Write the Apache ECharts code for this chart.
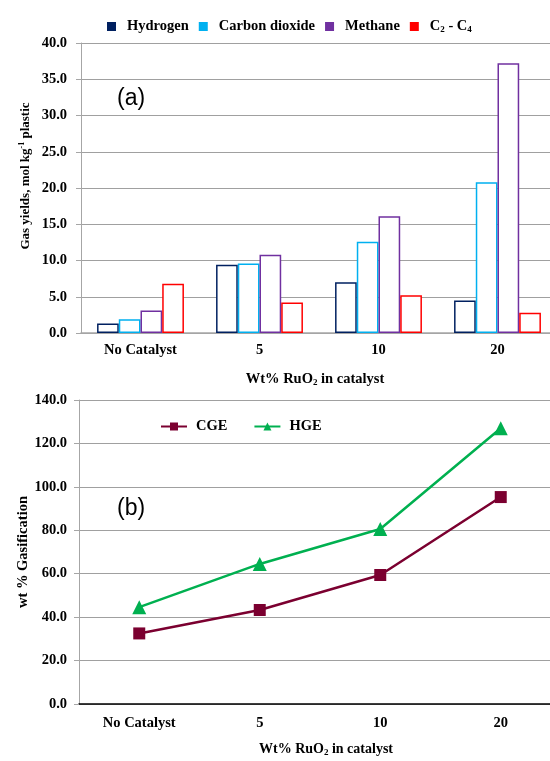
<!DOCTYPE html>
<html>
<head>
<meta charset="utf-8">
<script src="https://cdn.jsdelivr.net/npm/echarts@6/dist/echarts.min.js"></script>
<style>
  html,body{margin:0;padding:0;background:#fff;}
  #chart{width:550px;height:761px;}
</style>
</head>
<body>
<div id="chart"></div>
<script>
// data
const categories = ['No Catalyst', '5', '10', '20'];
const hydrogen = [1.3, 9.4, 7.0, 4.5];
const carbonDioxide = [1.9, 9.6, 12.6, 20.8];
const methane = [3.1, 10.8, 16.1, 37.2];
const c2c4 = [6.8, 4.2, 5.2, 2.8];
const cge = [32.5, 43.3, 59.4, 95.3];
const hge = [44.6, 64.5, 80.6, 127.0];

const serif = '"Liberation Serif", "Times New Roman", serif';
const lbl = { fontFamily: serif, fontWeight: 'bold', fontSize: 14.5, color: '#000' };
const subRich = {
  sub: { fontFamily: serif, fontWeight: 'bold', fontSize: 9, lineHeight: 5, verticalAlign: 'bottom', color: '#000' },
  sup: { fontFamily: serif, fontWeight: 'bold', fontSize: 8, lineHeight: 5, verticalAlign: 'top', color: '#000' }
};

const chart = echarts.init(document.getElementById('chart'));

function barSeries(name, data, color) {
  return {
    name: name, type: 'bar', xAxisIndex: 0, yAxisIndex: 0,
    data: data, barGap: '0%', barCategoryGap: '27%',
    itemStyle: { color: '#fff', borderColor: color, borderWidth: 1.5 }
  };
}

let option = {
  animation: false,
  grid: [
    { left: 81, top: 43, width: 476, height: 290, outerBoundsMode: 'none', containLabel: false },
    { left: 79, top: 400, width: 482, height: 304, outerBoundsMode: 'none', containLabel: false }
  ],
  legend: [
    {
      left: 102, top: 14, itemWidth: 9, itemHeight: 9, itemGap: 10,
      icon: 'rect',
      textStyle: Object.assign({}, lbl, { fontSize: 14.5, padding: [0, 0, 0, 6], rich: subRich }),
      formatter: function (n) { return n === 'C2 - C4' ? 'C{sub|2} - C{sub|4}' : n; },
      data: [
        { name: 'Hydrogen', itemStyle: { color: '#002060', borderWidth: 0 } },
        { name: 'Carbon dioxide', itemStyle: { color: '#00B0F0', borderWidth: 0 } },
        { name: 'Methane', itemStyle: { color: '#7030A0', borderWidth: 0 } },
        { name: 'C2 - C4', itemStyle: { color: '#FF0000', borderWidth: 0 } }
      ]
    },
    {
      left: 155, top: 414, itemWidth: 26, itemHeight: 10, itemGap: 26,
      textStyle: Object.assign({}, lbl, { padding: [0, 0, 0, 4] }),
      data: ['CGE', 'HGE']
    }
  ],
  xAxis: [
    {
      type: 'category', gridIndex: 0, data: categories,
      axisLine: { lineStyle: { color: '#A6A6A6', width: 1.5 } },
      axisTick: { length: 5, lineStyle: { color: '#A6A6A6' } },
      axisLabel: Object.assign({}, lbl, { margin: 10 }),
      name: 'Wt% RuO{sub|2} in catalyst', nameLocation: 'middle', nameGap: 38,
      nameTextStyle: Object.assign({}, lbl, { fontSize: 14.5, lineHeight: 16, padding: [0, 8, 0, 0], rich: subRich })
    },
    {
      type: 'category', gridIndex: 1, data: categories,
      axisLine: { lineStyle: { color: '#000', width: 1.5 } },
      axisTick: { length: 5, lineStyle: { color: '#888' } },
      axisLabel: Object.assign({}, lbl, { margin: 12 }),
      name: 'Wt% RuO{sub|2} in catalyst', nameLocation: 'middle', nameGap: 37,
      nameTextStyle: Object.assign({}, lbl, { fontSize: 14, lineHeight: 16, padding: [0, 0, 0, 12], rich: subRich })
    }
  ],
  yAxis: [
    {
      type: 'value', gridIndex: 0, min: 0, max: 40, interval: 5,
      axisLine: { show: true, lineStyle: { color: '#A6A6A6' } },
      axisTick: { show: true, length: 5, lineStyle: { color: '#A6A6A6' } },
      splitLine: { lineStyle: { color: '#A0A0A0' } },
      axisLabel: Object.assign({}, lbl, { margin: 14, formatter: function (v) { return v.toFixed(1); } }),
      name: 'Gas yields, mol kg{sup|-1} plastic', nameLocation: 'middle', nameGap: 47,
      nameMoveOverlap: false,
      nameTextStyle: Object.assign({}, lbl, { fontSize: 13, lineHeight: 16, padding: [0, 0, 0, 24], rich: subRich })
    },
    {
      type: 'value', gridIndex: 1, min: 0, max: 140, interval: 20,
      axisLine: { show: true, lineStyle: { color: '#A6A6A6' } },
      axisTick: { show: true, length: 5, lineStyle: { color: '#A6A6A6' } },
      splitLine: { lineStyle: { color: '#A0A0A0' } },
      axisLabel: Object.assign({}, lbl, { margin: 12, formatter: function (v) { return v.toFixed(1); } }),
      name: 'wt % Gasification', nameLocation: 'middle', nameGap: 48,
      nameMoveOverlap: false,
      nameTextStyle: lbl
    }
  ],
  graphic: [
    { type: 'text', left: 117, top: 87, style: { text: '(a)', font: '23px "Liberation Sans", Arial, sans-serif', fill: '#000' } },
    { type: 'text', left: 117, top: 497, style: { text: '(b)', font: '23px "Liberation Sans", Arial, sans-serif', fill: '#000' } }
  ],
  series: [
    barSeries('Hydrogen', hydrogen, '#002060'),
    barSeries('Carbon dioxide', carbonDioxide, '#00B0F0'),
    barSeries('Methane', methane, '#7030A0'),
    barSeries('C2 - C4', c2c4, '#FF0000'),
    {
      name: 'CGE', type: 'line', xAxisIndex: 1, yAxisIndex: 1, data: cge,
      symbol: 'rect', symbolSize: 12,
      lineStyle: { color: '#7B0030', width: 2.5 },
      itemStyle: { color: '#7B0030' }
    },
    {
      name: 'HGE', type: 'line', xAxisIndex: 1, yAxisIndex: 1, data: hge,
      symbol: 'triangle', symbolSize: 14,
      lineStyle: { color: '#00B050', width: 2.5 },
      itemStyle: { color: '#00B050' }
    }
  ]
};

chart.setOption(option);
</script>
</body>
</html>
